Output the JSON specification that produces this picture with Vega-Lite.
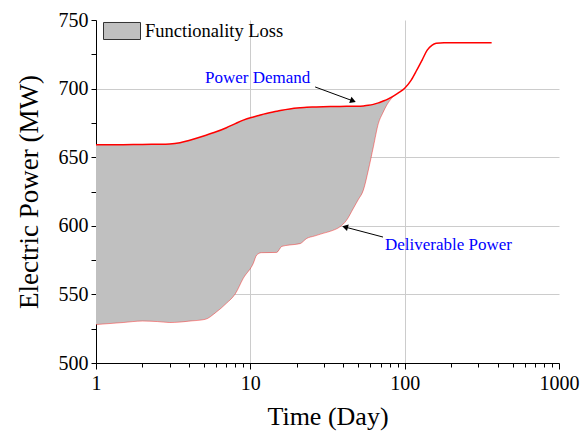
{
  "$schema": "https://vega.github.io/schema/vega-lite/v6.json",
  "width": 463,
  "height": 343,
  "autosize": {"type": "none"},
  "padding": {"left": 96, "top": 20, "right": 23, "bottom": 73},
  "background": "white",
  "config": {
    "view": {"stroke": null},
    "font": "Liberation Serif"
  },
  "datasets": {
    "curves": [
      {"t": 1, "demand": 659, "deliverable": 528},
      {"t": 1.5, "demand": 659.1, "deliverable": 529.5},
      {"t": 2, "demand": 659.3, "deliverable": 530.6},
      {"t": 2.5, "demand": 659.4, "deliverable": 530.2},
      {"t": 3, "demand": 659.6, "deliverable": 529.5},
      {"t": 3.5, "demand": 660.5, "deliverable": 529.8},
      {"t": 4, "demand": 662.2, "deliverable": 530.5},
      {"t": 5.1, "demand": 665.8, "deliverable": 531.8},
      {"t": 6, "demand": 668.5, "deliverable": 537},
      {"t": 7, "demand": 671.5, "deliverable": 543.5},
      {"t": 8, "demand": 674.5, "deliverable": 550.5},
      {"t": 9, "demand": 677, "deliverable": 561.7},
      {"t": 10.45, "demand": 679.3, "deliverable": 572.6},
      {"t": 11, "demand": 680, "deliverable": 578.7},
      {"t": 11.8, "demand": 681, "deliverable": 580.4},
      {"t": 14.8, "demand": 683.5, "deliverable": 580.6},
      {"t": 16, "demand": 684.3, "deliverable": 585},
      {"t": 18, "demand": 685.2, "deliverable": 586},
      {"t": 21, "demand": 686, "deliverable": 587},
      {"t": 23.2, "demand": 686.4, "deliverable": 590.8},
      {"t": 26, "demand": 686.6, "deliverable": 592.5},
      {"t": 29.6, "demand": 686.8, "deliverable": 594.5},
      {"t": 34, "demand": 686.9, "deliverable": 596.5},
      {"t": 38.1, "demand": 687, "deliverable": 599.3},
      {"t": 42, "demand": 687.1, "deliverable": 604},
      {"t": 46.5, "demand": 687.2, "deliverable": 612.7},
      {"t": 50, "demand": 687.2, "deliverable": 619},
      {"t": 54, "demand": 687.4, "deliverable": 626},
      {"t": 58.2, "demand": 687.8, "deliverable": 640.7},
      {"t": 62.7, "demand": 688.5, "deliverable": 657.6},
      {"t": 67.6, "demand": 689.6, "deliverable": 674.7},
      {"t": 72, "demand": 690.8, "deliverable": 682},
      {"t": 76.6, "demand": 692, "deliverable": 688},
      {"t": 85, "demand": 694.7, "deliverable": 694.7},
      {"t": 92, "demand": 697.2, "deliverable": null},
      {"t": 100, "demand": 700.3, "deliverable": null},
      {"t": 110, "demand": 706, "deliverable": null},
      {"t": 120, "demand": 713.6, "deliverable": null},
      {"t": 130, "demand": 721, "deliverable": null},
      {"t": 140, "demand": 728, "deliverable": null},
      {"t": 150, "demand": 731.5, "deliverable": null},
      {"t": 160, "demand": 733, "deliverable": null},
      {"t": 180, "demand": 733.5, "deliverable": null},
      {"t": 250, "demand": 733.5, "deliverable": null},
      {"t": 366, "demand": 733.5, "deliverable": null}
    ],
    "notes": [
      {"name": "Power Demand", "tx": 5.09, "ty": 707.7, "t1": 26.3, "v1": 701.2, "t2": 46.3, "v2": 691},
      {"name": "Deliverable Power", "tx": 74.6, "ty": 586, "t1": 72.4, "v1": 591.8, "t2": 41.1, "v2": 599.1}
    ]
  },
  "data": {"name": "curves"},
  "encoding": {
    "x": {
      "field": "t", "type": "quantitative",
      "scale": {"type": "log", "domain": [1, 1000]},
      "axis": {
        "title": "Time (Day)",
        "titleFont": "Liberation Serif", "titleFontSize": 26, "titleFontWeight": "normal", "titleColor": "black", "titlePadding": 10,
        "values": [1,2,3,4,5,6,7,8,9,10,20,30,40,50,60,70,80,90,100,200,300,400,500,600,700,800,900,1000],
        "format": "d",
        "labelExpr": "indexof([1,10,100,1000], datum.value) >= 0 ? datum.label : ''",
        "labelFont": "Liberation Serif", "labelFontSize": 20, "labelColor": "black", "labelPadding": 4,
        "labelOverlap": false, "labelFlush": false,
        "domainColor": "black", "tickColor": "black",
        "tickSize": {"condition": {"test": "indexof([1,10,100,1000], datum.value) >= 0", "value": 6}, "value": 4},
        "grid": true, "gridColor": "#cccccc", "gridWidth": 1,
        "gridOpacity": {"condition": {"test": "datum.value == 10 || datum.value == 100", "value": 1}, "value": 0}
      }
    },
    "y": {
      "field": "demand", "type": "quantitative",
      "scale": {"domain": [500, 750], "zero": false},
      "axis": {
        "title": "Electric Power (MW)",
        "titleFont": "Liberation Serif", "titleFontSize": 27, "titleFontWeight": "normal", "titleColor": "black", "titlePadding": 15,
        "values": [500,525,550,575,600,625,650,675,700,725,750],
        "labelExpr": "datum.value % 50 == 0 ? datum.label : ''",
        "labelFont": "Liberation Serif", "labelFontSize": 20, "labelColor": "black", "labelPadding": 3,
        "labelOverlap": false, "labelFlush": false,
        "domainColor": "black", "tickColor": "black", "tickSize": 5,
        "grid": true, "gridColor": "#cccccc", "gridWidth": 1,
        "gridOpacity": {"condition": {"test": "datum.value % 50 == 0 && datum.value > 500 && datum.value < 750", "value": 1}, "value": 0}
      }
    }
  },
  "layer": [
    {
      "transform": [{"filter": "datum.deliverable != null"}],
      "mark": {"type": "area", "interpolate": "monotone"},
      "encoding": {
        "y": {"field": "deliverable", "type": "quantitative"},
        "y2": {"field": "demand"},
        "fill": {
          "datum": "Functionality Loss",
          "scale": {"range": ["#c0c0c0"]},
          "legend": {
            "title": null, "orient": "none", "legendX": 7, "legendY": -8, "padding": 0,
            "symbolType": "M-1,-0.46H1V0.46H-1Z", "symbolSize": 1369,
            "symbolStrokeColor": "#333333", "symbolStrokeWidth": 1, "symbolFillColor": "#c0c0c0",
            "labelFont": "Liberation Serif", "labelFontSize": 18.5, "labelColor": "black", "labelOffset": 4
          }
        }
      }
    },
    {
      "transform": [{"filter": "datum.deliverable != null"}],
      "mark": {"type": "line", "color": "#ff0000", "strokeWidth": 0.8, "opacity": 0.5, "interpolate": "monotone"},
      "encoding": {"y": {"field": "deliverable", "type": "quantitative"}}
    },
    {
      "mark": {"type": "line", "color": "#ff0000", "strokeWidth": 1.5, "interpolate": "monotone"},
      "encoding": {}
    },
    {
      "data": {"name": "notes"},
      "mark": {"type": "rule", "color": "black", "strokeWidth": 1},
      "encoding": {
        "x": {"field": "t1", "type": "quantitative"},
        "y": {"field": "v1", "type": "quantitative"},
        "x2": {"field": "t2"},
        "y2": {"field": "v2"}
      }
    },
    {
      "data": {"name": "notes"},
      "transform": [{"filter": "datum.name == 'Power Demand'"}],
      "mark": {"type": "point", "shape": "triangle-right", "filled": true, "color": "black", "size": 45, "angle": 20, "opacity": 1},
      "encoding": {
        "x": {"field": "t2", "type": "quantitative"},
        "y": {"field": "v2", "type": "quantitative"}
      }
    },
    {
      "data": {"name": "notes"},
      "transform": [{"filter": "datum.name == 'Deliverable Power'"}],
      "mark": {"type": "point", "shape": "triangle-left", "filled": true, "color": "black", "size": 45, "angle": 15, "opacity": 1},
      "encoding": {
        "x": {"field": "t2", "type": "quantitative"},
        "y": {"field": "v2", "type": "quantitative"}
      }
    },
    {
      "data": {"name": "notes"},
      "mark": {"type": "text", "color": "#0000ff", "font": "Liberation Serif", "fontSize": 17, "align": "left", "baseline": "middle"},
      "encoding": {
        "x": {"field": "tx", "type": "quantitative"},
        "y": {"field": "ty", "type": "quantitative"},
        "text": {"field": "name"}
      }
    }
  ]
}
